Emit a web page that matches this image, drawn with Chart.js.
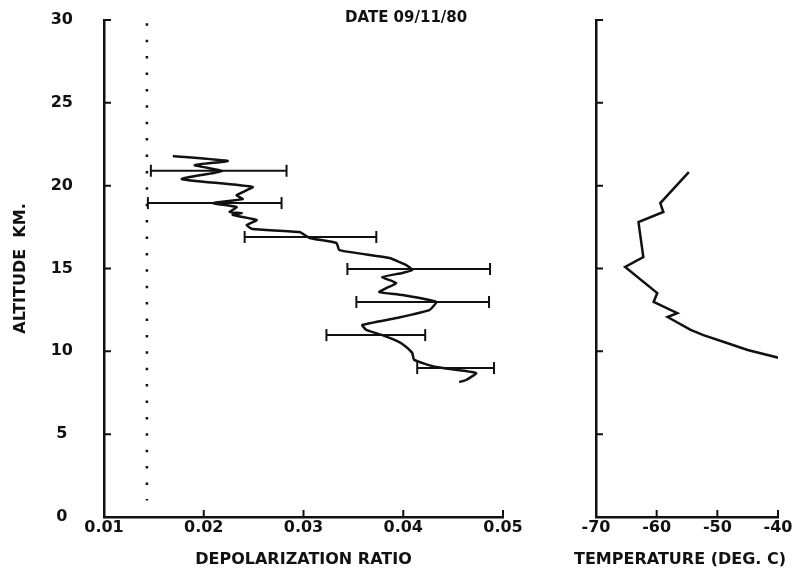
<!DOCTYPE html>
<html>
<head>
<meta charset="utf-8">
<script src="https://cdn.jsdelivr.net/npm/chart.js@4.4.0/dist/chart.umd.min.js"></script>
<style>
body { margin: 0; background: #fff; }
#wrap { position: relative; width: 802px; height: 574px; }
#depol { position: absolute; left: 0; top: 0; }
#temp { position: absolute; left: 540px; top: 0; }
#date { position: absolute; left: 345px; top: 8px; font: bold 15px "DejaVu Sans"; color: #111; }
#tempTitle { position: absolute; left: 560px; width: 240px; top: 549px; text-align: center; font: bold 16px "DejaVu Sans"; color: #111; white-space: nowrap; }
</style>
</head>
<body>
<div id="wrap">
  <canvas id="depol" width="540" height="574"></canvas>
  <canvas id="temp" width="262" height="574"></canvas>
  <div id="date">DATE 09/11/80</div>
  <div id="tempTitle">TEMPERATURE (DEG. C)</div>
</div>
<script>
// altitude in km
const altTicks = [0, 5, 10, 15, 20, 25, 30];
const depolTicks = [0.01, 0.02, 0.03, 0.04, 0.05];
const tempTicks = [-70, -60, -50, -40];

const depolAlt = [21.79, 21.49, 21.24, 20.88, 20.40, 19.92, 19.43, 19.19, 18.95, 18.71, 18.41, 18.35, 18.23,
  17.92, 17.62, 17.38, 17.20, 16.84, 16.54, 16.11, 15.63, 15.21, 14.91, 14.73, 14.48, 14.12, 13.82, 13.58,
  13.40, 12.98, 12.49, 12.01, 11.59, 11.29, 10.98, 10.56, 10.26, 9.90, 9.48, 9.05, 8.69, 8.27, 8.15];
const depolRatio = [0.0169, 0.0224, 0.0191, 0.0218, 0.0178, 0.0249, 0.0233, 0.0239, 0.0209, 0.0233, 0.0226, 0.0238, 0.0229,
  0.0253, 0.0243, 0.0249, 0.0296, 0.0306, 0.0333, 0.0336, 0.0386, 0.0403, 0.0409, 0.0399, 0.0379, 0.0393, 0.0383, 0.0376,
  0.0399, 0.0433, 0.0426, 0.0393, 0.0359, 0.0363, 0.0379, 0.0396, 0.0403, 0.0409, 0.0411, 0.0433, 0.0473, 0.0463, 0.0456];

const errAlt = [20.9, 18.95, 16.9, 14.97, 12.98, 10.98, 8.99];
const errLow = [0.0147, 0.0144, 0.0241, 0.0344, 0.0353, 0.0323, 0.0414];
const errHigh = [0.0283, 0.0278, 0.0373, 0.0487, 0.0486, 0.0422, 0.0491];

const molecularRatio = 0.0143;

const tempAlt = [20.82, 18.95, 18.41, 17.80, 15.69, 15.09, 13.52, 12.98, 12.31, 12.07, 11.29, 10.98, 10.56, 10.08, 9.60];
const tempC = [-54.7, -59.4, -58.9, -63.0, -62.2, -65.2, -59.9, -60.5, -56.6, -58.2, -54.4, -52.3, -48.9, -45.0, -39.8];

const ink = '#111';
const font = { family: 'DejaVu Sans', size: 16, weight: 'bold' };

// small tick marks pointing into the plot
const inTicks = {
  id: 'inTicks',
  afterDraw(chart) {
    const { ctx, chartArea: a, scales: { x, y } } = chart;
    ctx.save();
    ctx.strokeStyle = ink;
    ctx.lineWidth = 2;
    ctx.beginPath();
    y.ticks.forEach(t => {
      if (t.value === y.min) return;
      const py = y.getPixelForValue(t.value);
      ctx.moveTo(a.left, py);
      ctx.lineTo(a.left + 7, py);
    });
    x.ticks.forEach(t => {
      if (t.value === x.min) return;
      const px = x.getPixelForValue(t.value);
      ctx.moveTo(px, a.bottom);
      ctx.lineTo(px, a.bottom - 7);
    });
    ctx.stroke();
    ctx.restore();
  }
};

function yScale(showLabels, width) {
  return {
    type: 'linear', min: 0, max: 30,
    afterBuildTicks: s => { s.ticks = altTicks.map(v => ({ value: v })); },
    afterFit: s => { s.width = width; s.paddingTop = 0; s.paddingBottom = 0; },
    grid: { drawOnChartArea: false, drawTicks: false, color: 'transparent' },
    border: { display: true, color: ink, width: 2.5 },
    ticks: { display: showLabels, color: ink, font: font, padding: 31, crossAlign: 'center' },
    title: showLabels ? { display: true, text: 'ALTITUDE  KM.', color: ink, font: font, padding: { top: 11, bottom: 0 } } : { display: false }
  };
}

function xScale(min, max, tickVals, fmt, label) {
  return {
    type: 'linear', min: min, max: max,
    afterBuildTicks: s => { s.ticks = tickVals.map(v => ({ value: v })); },
    afterFit: s => { s.height = 57; },
    grid: { drawOnChartArea: false, drawTicks: false, color: 'transparent' },
    border: { display: true, color: ink, width: 2.5 },
    ticks: { color: ink, font: font, padding: 1, maxRotation: 0, callback: fmt },
    title: { display: !!label, text: label, color: ink, font: font, padding: { top: 0, bottom: 5 } }
  };
}

const errSets = errAlt.map((alt, i) => ({
  data: [{ x: errLow[i], y: alt }, { x: errHigh[i], y: alt }],
  showLine: true,
  borderColor: ink,
  borderWidth: 2,
  pointStyle: 'line',
  pointRotation: 90,
  pointRadius: 6,
  pointBorderWidth: 2,
  pointBorderColor: ink
}));

new Chart(document.getElementById('depol'), {
  type: 'scatter',
  data: {
    datasets: [
      {
        data: depolAlt.map((a, i) => ({ x: depolRatio[i], y: a })),
        showLine: true, borderColor: ink, borderWidth: 2.5, pointRadius: 0, tension: 0.15
      },
      {
        data: [{ x: molecularRatio, y: 29.8 }, { x: molecularRatio, y: 1.0 }],
        showLine: true, borderColor: ink, borderWidth: 2.5, borderDash: [2.5, 13.9], pointRadius: 0
      },
      ...errSets
    ]
  },
  options: {
    responsive: false,
    animation: false,
    layout: { padding: { top: 20, right: 37, left: 0, bottom: 0 } },
    plugins: { legend: { display: false }, tooltip: { enabled: false } },
    scales: {
      x: xScale(0.01, 0.05, depolTicks, v => v.toFixed(2), 'DEPOLARIZATION RATIO'),
      y: yScale(true, 104)
    }
  },
  plugins: [inTicks]
});

// title of this panel is the html label below the canvas (canvas would squeeze it)
new Chart(document.getElementById('temp'), {
  type: 'scatter',
  data: {
    datasets: [{
      data: tempAlt.map((a, i) => ({ x: tempC[i], y: a })),
      showLine: true, borderColor: ink, borderWidth: 2.5, pointRadius: 0
    }]
  },
  options: {
    responsive: false,
    animation: false,
    layout: { padding: { top: 20, right: 24, left: 0, bottom: 0 } },
    plugins: { legend: { display: false }, tooltip: { enabled: false } },
    scales: {
      x: xScale(-70, -40, tempTicks, v => String(v), ''),
      y: yScale(false, 56)
    }
  },
  plugins: [inTicks]
});
</script>
</body>
</html>
